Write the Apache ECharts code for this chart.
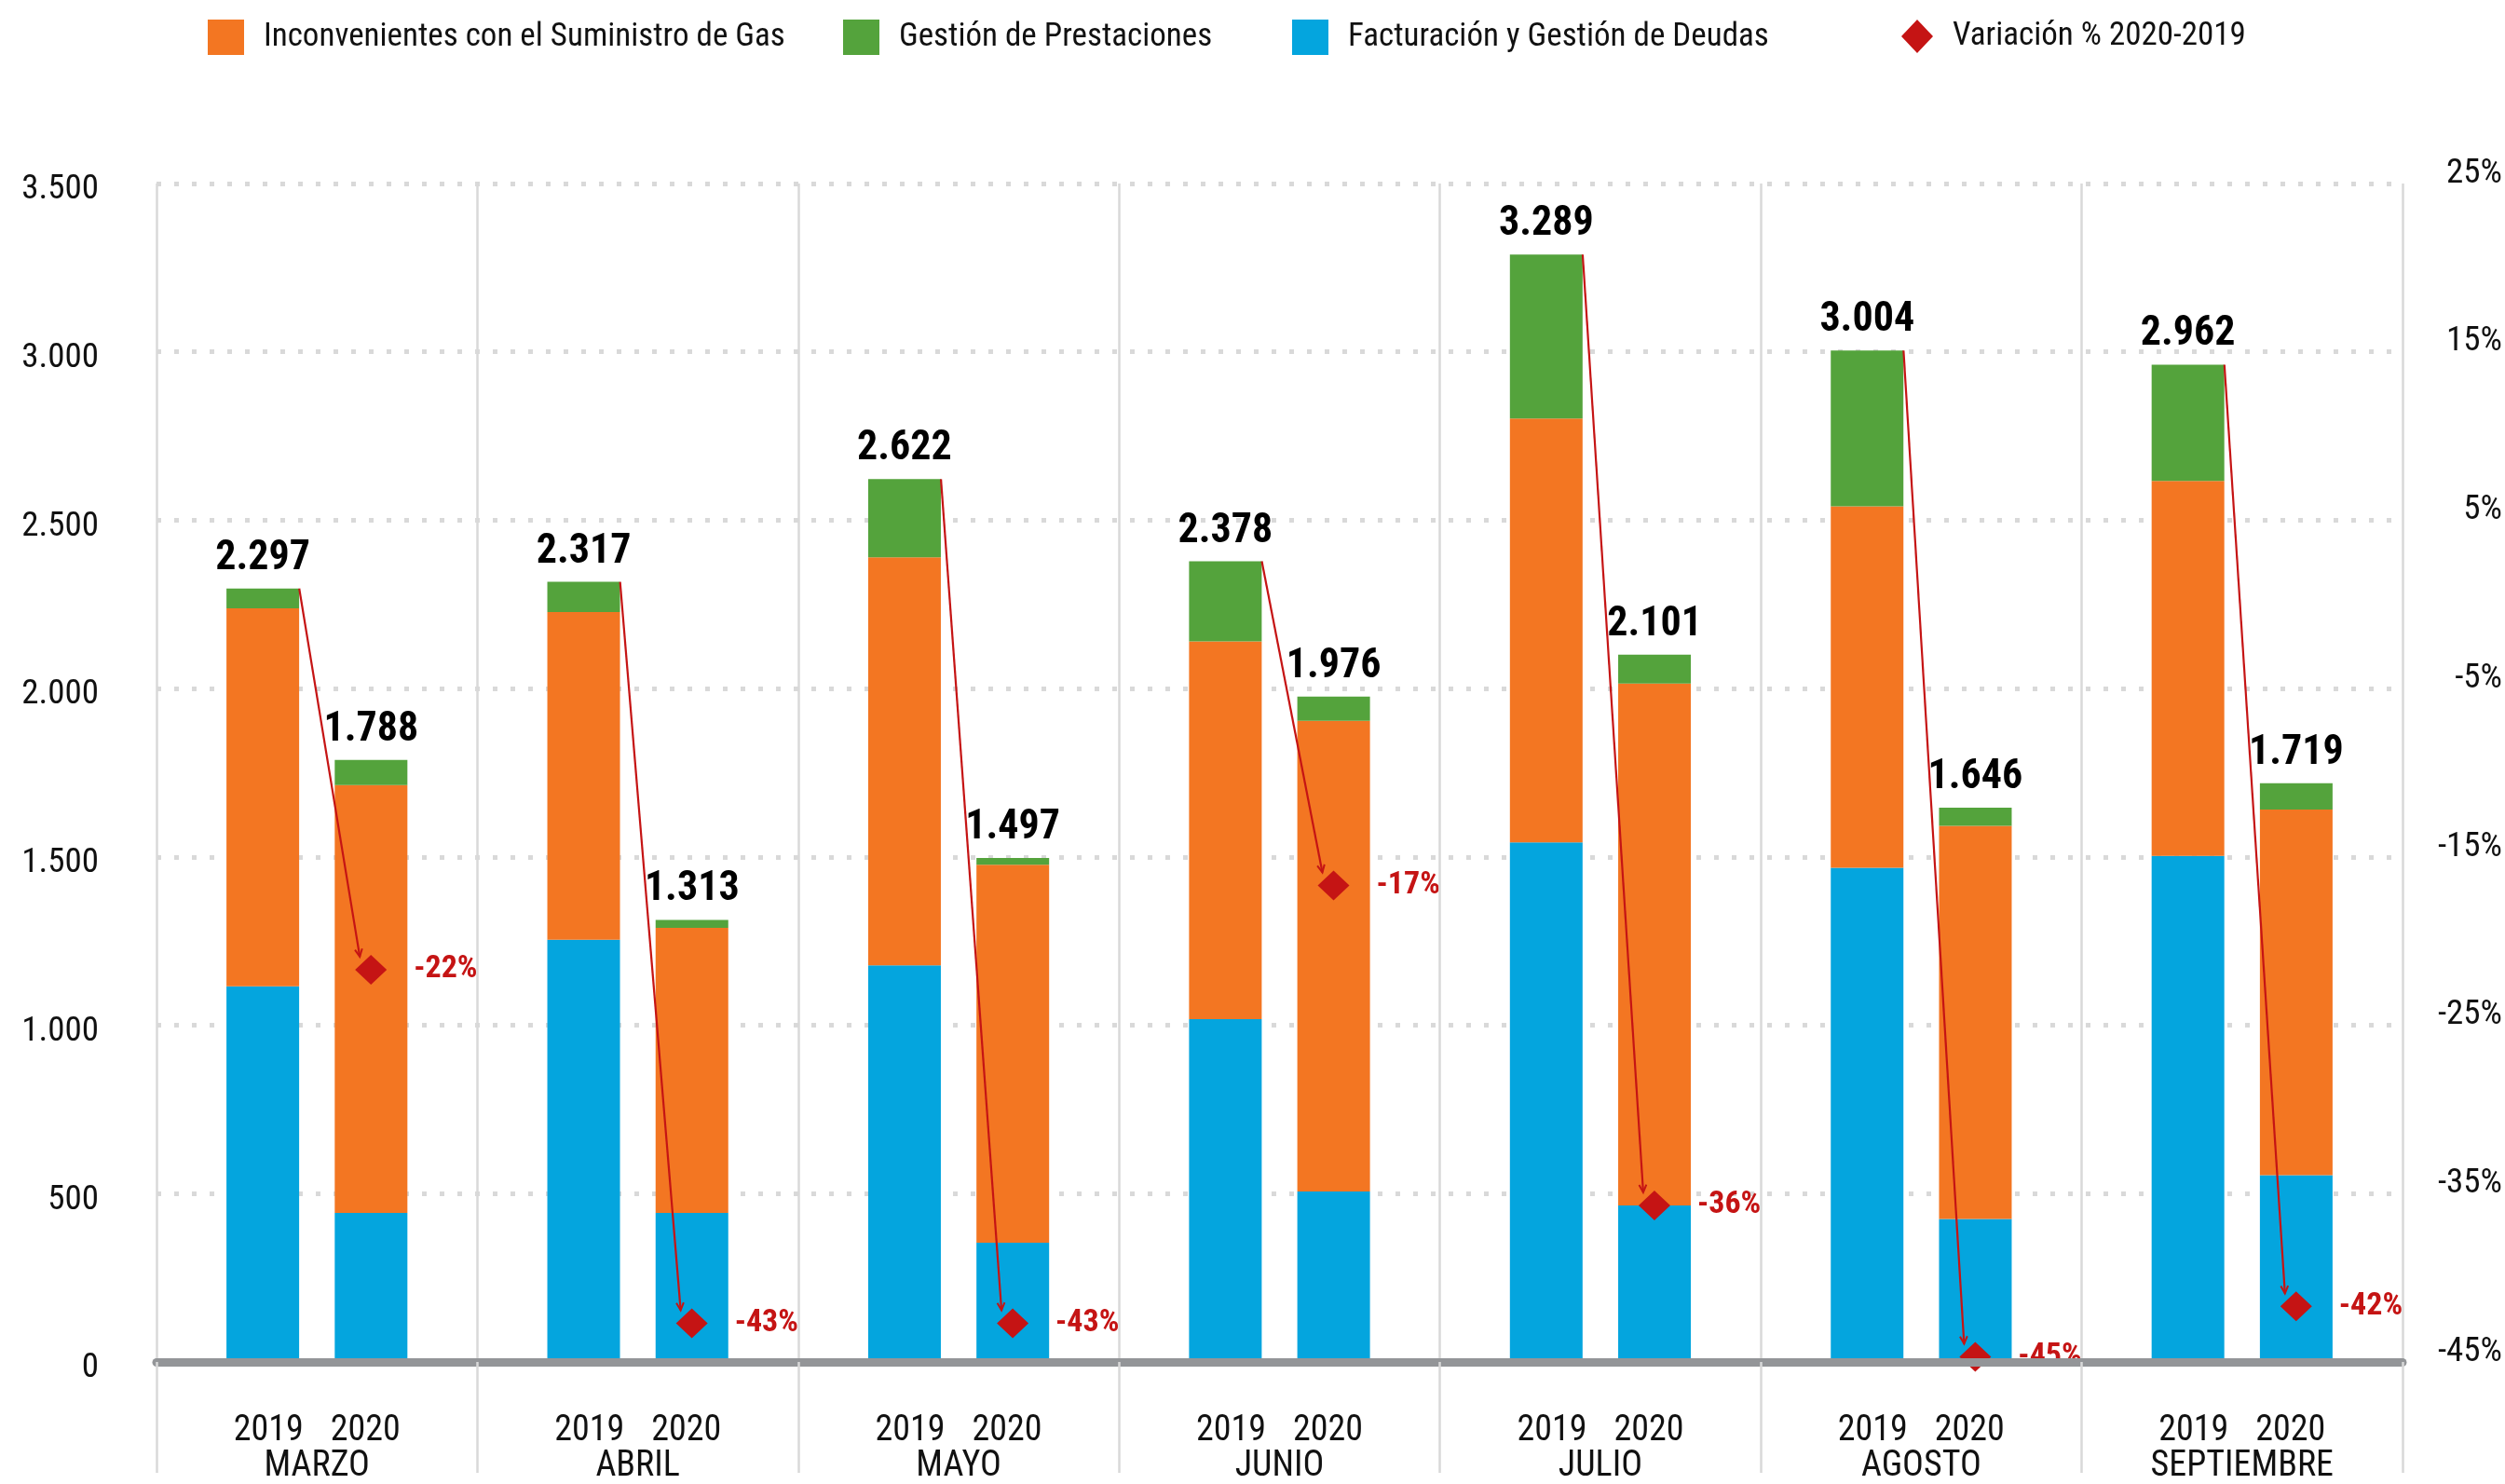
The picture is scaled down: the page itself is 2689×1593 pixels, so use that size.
<!DOCTYPE html>
<html>
<head>
<meta charset="utf-8">
<script src="https://cdn.jsdelivr.net/npm/echarts@6/dist/echarts.min.js"></script>
<style>
html,body{margin:0;padding:0;background:#fff;}
#chart{width:2689px;height:1593px;}
</style>
</head>
<body>
<div id="chart"></div>
<script>
// ---- data ----
const months = ['MARZO', 'ABRIL', 'MAYO', 'JUNIO', 'JULIO', 'AGOSTO', 'SEPTIEMBRE'];
const years = ['2019', '2020'];
const seriesNames = ['Facturación y Gestión de Deudas', 'Inconvenientes con el Suministro de Gas', 'Gestión de Prestaciones', 'Variación % 2020-2019'];
const deudas2019 = [1116, 1254, 1178, 1018, 1543, 1468, 1503];
const suministro2019 = [1122, 973, 1212, 1122, 1259, 1073, 1114];
const prestaciones2019 = [59, 90, 232, 238, 487, 463, 345];
const deudas2020 = [443, 443, 354, 506, 465, 425, 555];
const suministro2020 = [1270, 846, 1123, 1398, 1550, 1167, 1086];
const prestaciones2020 = [75, 24, 20, 72, 86, 54, 78];
const variacion = [-22, -43, -43, -17, -36, -45, -42];

// ---- style ----
const FONT = "'Liberation Sans Narrow', 'Roboto Condensed', Roboto, sans-serif";
const C_BLUE = '#04a5de', C_ORANGE = '#f37622', C_GREEN = '#54a33c', C_RED = '#c51414';
const BAR_W = 78, BAR_GAP = '49%', BAR_OFF = 58;

const total2019 = months.map((_, i) => deudas2019[i] + suministro2019[i] + prestaciones2019[i]);
const total2020 = months.map((_, i) => deudas2020[i] + suministro2020[i] + prestaciones2020[i]);
const fmt = n => String(n).replace(/\B(?=(\d{3})+(?!\d))/g, '.');

const chart = echarts.init(document.getElementById('chart'));

function bar(name, data, stack, color, totals) {
  const s = {
    name, type: 'bar', stack, data, barWidth: BAR_W, barGap: BAR_GAP,
    itemStyle: { color }, emphasis: { disabled: true }
  };
  if (totals) {
    s.label = {
      show: true, position: 'top', distance: 9,
      formatter: p => fmt(totals[p.dataIndex]),
      fontFamily: FONT, fontWeight: 'bold', fontSize: 44, lineHeight: 46, color: '#000'
    };
  }
  return s;
}

function legend(name, left, w, h) {
  return {
    data: [name], left, top: 21, padding: 0, itemWidth: w, itemHeight: h, itemGap: 0,
    icon: name === seriesNames[3] ? undefined : 'rect',
    textStyle: { fontFamily: FONT, fontSize: 35, color: '#111', padding: [0, 0, 0, 16] }
  };
}

const option = {
  animation: false,
  backgroundColor: '#fff',
  textStyle: { fontFamily: FONT },
  legend: [
    legend(seriesNames[1], 223, 39, 38),
    legend(seriesNames[2], 905, 39, 38),
    legend(seriesNames[0], 1387, 39, 38),
    legend(seriesNames[3], 2041, 34, 36)
  ],
  grid: { left: 168, right: 109, top: 197, bottom: 119, containLabel: false },
  xAxis: {
    type: 'category', data: months, z: 10,
    axisLine: { show: true, lineStyle: { color: '#939598', width: 9 } },
    axisTick: { show: true, length: 119, lineStyle: { color: '#d9d9d9', width: 2.5 } },
    splitLine: { show: true, lineStyle: { color: '#d9d9d9', width: 2.5, type: 'solid' } },
    axisLabel: {
      interval: 0, margin: 55, color: '#111',
      formatter: v => `{y|${years[0]}}{y|${years[1]}}\n{m|${v}}`,
      rich: {
        y: { width: 104, align: 'center', fontFamily: FONT, fontSize: 38, lineHeight: 38, color: '#111' },
        m: { fontFamily: FONT, fontSize: 38, lineHeight: 38, color: '#111' }
      }
    }
  },
  yAxis: [
    {
      type: 'value', min: 0, max: 3500, interval: 500, position: 'left',
      axisLine: { show: false }, axisTick: { show: false },
      splitLine: { show: true, lineStyle: { color: '#d9d9d9', width: 5, type: [5, 14] } },
      axisLabel: { margin: 62, fontFamily: FONT, fontSize: 37, color: '#111', verticalAlign: 'top', lineHeight: 14, formatter: v => fmt(v) }
    },
    {
      type: 'value', min: -45, max: 25, interval: 10, position: 'right',
      axisLine: { show: false }, axisTick: { show: false }, splitLine: { show: false },
      axisLabel: { margin: 107, align: 'right', fontFamily: FONT, fontSize: 37, color: '#111', verticalAlign: 'bottom', lineHeight: 21, formatter: v => v + '%' }
    },
    {
      type: 'value', min: -45.3, max: 24.7, show: false, position: 'right',
      splitLine: { show: false }
    }
  ],
  series: [
    bar(seriesNames[0], deudas2019, 's2019', C_BLUE),
    bar(seriesNames[1], suministro2019, 's2019', C_ORANGE),
    bar(seriesNames[2], prestaciones2019, 's2019', C_GREEN, total2019),
    bar(seriesNames[0], deudas2020, 's2020', C_BLUE),
    bar(seriesNames[1], suministro2020, 's2020', C_ORANGE),
    bar(seriesNames[2], prestaciones2020, 's2020', C_GREEN, total2020),
    {
      type: 'custom', xAxisIndex: 0, yAxisIndex: 0, z: 4, silent: true,
      data: months.map((_, i) => [i, total2019[i], variacion[i]]),
      renderItem(params, api) {
        const i = api.value(0);
        const top = api.coord([i, api.value(1)]);
        const x0 = top[0] - BAR_OFF + BAR_W / 2, y0 = top[1];
        const yv = chart.convertToPixel({ yAxisIndex: 2 }, api.value(2));
        const x1 = top[0] + BAR_OFF - 12, y1 = yv - 14;
        const ang = Math.atan2(y1 - y0, x1 - x0);
        const L = 9, spread = 0.45;
        const a1 = [x1 - L * Math.cos(ang - spread), y1 - L * Math.sin(ang - spread)];
        const a2 = [x1 - L * Math.cos(ang + spread), y1 - L * Math.sin(ang + spread)];
        return {
          type: 'group',
          children: [
            { type: 'line', shape: { x1: x0, y1: y0, x2: x1, y2: y1 }, style: { stroke: C_RED, lineWidth: 2.2 } },
            { type: 'polyline', shape: { points: [a1, [x1, y1], a2] }, style: { stroke: C_RED, lineWidth: 2, fill: null } }
          ]
        };
      }
    },
    {
      name: seriesNames[3], type: 'scatter', xAxisIndex: 0, yAxisIndex: 2, z: 5,
      symbol: 'diamond', symbolSize: [34, 32], symbolOffset: [BAR_OFF, 0],
      data: variacion,
      itemStyle: { color: C_RED, opacity: 1 },
      emphasis: { disabled: true },
      label: {
        show: true, position: 'right', distance: 29,
        formatter: p => p.value + '%',
        fontFamily: FONT, fontWeight: 'bold', fontSize: 34, color: C_RED
      }
    }
  ]
};
chart.setOption(option);
</script>
</body>
</html>
